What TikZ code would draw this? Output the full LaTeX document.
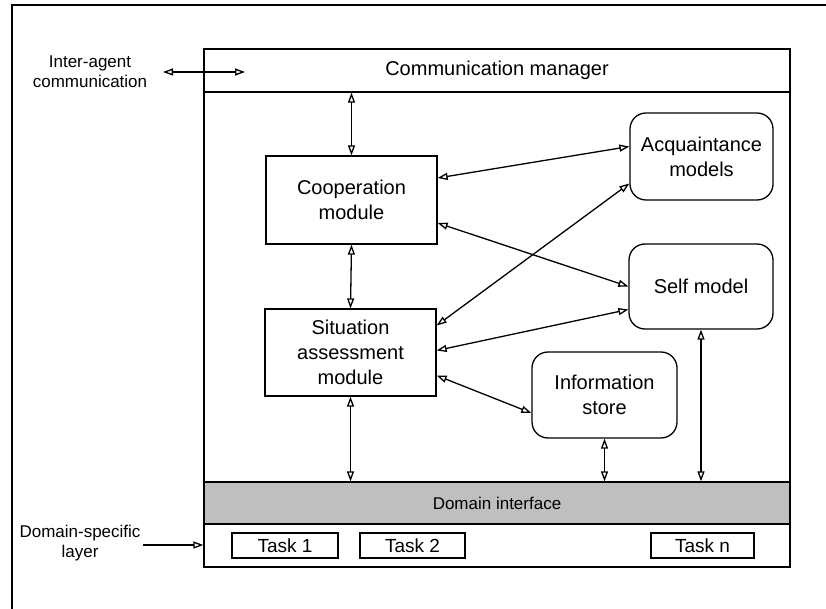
\documentclass[tikz,border=0pt]{standalone}
\usepackage{fontspec}
\setmainfont{Liberation Sans}
\usetikzlibrary{arrows.meta}

\begin{document}
\begin{tikzpicture}[x=1pt,y=-1pt,line width=1.3pt]
\tikzstyle{box}=[draw,rectangle,inner sep=0pt,align=center,font=\fontsize{20}{25}\selectfont]
\tikzstyle{model}=[box,rounded corners=16pt]
\tikzstyle{band}=[draw,rectangle,inner sep=0pt,minimum width=586pt]
\tikzstyle{task}=[box,minimum height=25pt,font=\fontsize{19}{22}\selectfont]
\tikzstyle{side}=[align=center,font=\fontsize{17}{20}\selectfont]
\tikzstyle{link}=[{Triangle[open,length=10pt,width=7pt]}-{Triangle[open,length=10pt,width=7pt]}]
\useasboundingbox (0,0) rectangle (826,609);
% frame
\draw (12,609) -- (12,5) -- (826,5);
% agent
\node[band,minimum height=518pt] (agent) at (497,308) {};
\node[band,minimum height=43pt,font=\fontsize{20}{25}\selectfont] (comm) at (497,70.5) {Communication manager};
\node[band,minimum height=42pt,fill=black!25,font=\fontsize{17}{20}\selectfont] (domain) at (497,503) {Domain interface};
\node[box,minimum width=171pt,minimum height=88pt] (coop) at (351.5,200) {Cooperation\\module};
\node[box,minimum width=171pt,minimum height=87pt] (sit) at (350.5,352.5) {Situation\\assessment\\module};
\node[model,minimum width=143pt,minimum height=87pt] (acq) at (701.5,156.5) {Acquaintance\\models};
\node[model,minimum width=144pt,minimum height=85pt] (self) at (701,286.5) {Self model};
\node[model,minimum width=145pt,minimum height=86pt] (info) at (604.5,395) {Information\\store};
\foreach \name/\x/\w/\txt in {t1/285/106/Task 1, t2/412.5/105/Task 2, tn/702.5/103/Task n}
	\node[task,minimum width=\w pt] (\name) at (\x,545.5) {\txt};
% outside
\node[side] (ialabel) at (90,72) {Inter-agent\\communication};
\node[side] (dslabel) at (80,543) {Domain-specific\\layer};
\coordinate (ia1) at (163,72);
\coordinate (ia2) at (245,72);
\coordinate (ds) at (143,545);
\draw[link] (ia1) -- (ia2);
\draw[-{Triangle[open,length=10pt,width=7pt]}] (ds) -- (ds -| agent.west);
% links
\draw[link] (coop.north) -- (coop.north |- comm.south);
\draw[link] (coop.south) -- (sit.north);
\draw[link] (sit.south) -- (sit.south |- domain.north);
\draw[link] (info.south) -- (info.south |- domain.north);
\draw[link] (self.south) -- (self.south |- domain.north);
\draw[link] ([yshift=22pt]coop.east) -- ([yshift=10pt]acq.west);
\draw[link] ([yshift=-23pt]coop.east) -- (self.west);
\draw[link] ([yshift=27pt]sit.east) -- ([yshift=-27pt]acq.west);
\draw[link] ([yshift=2pt]sit.east) -- ([yshift=-23pt]self.west);
\draw[link] ([yshift=-23pt]sit.east) -- ([yshift=-18pt]info.west);
\end{tikzpicture}
\end{document}
